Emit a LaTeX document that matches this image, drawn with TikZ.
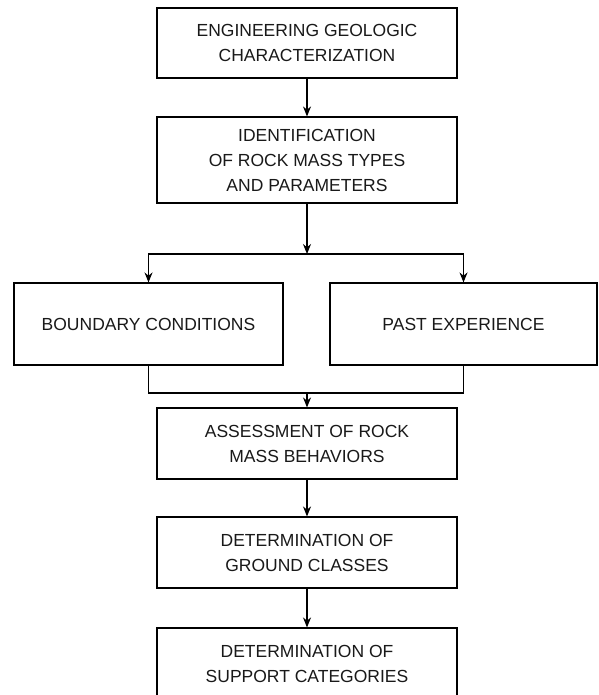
\documentclass[tikz,border=0pt]{standalone}
\usepackage{fontspec}
\setmainfont{Liberation Sans}
\usetikzlibrary{arrows.meta}
\begin{document}
\begin{tikzpicture}[x=1pt,y=-1pt,
  box/.style={draw, line width=1.1pt, align=center, inner sep=0pt, font=\fontsize{17.5}{25}\selectfont, text=black!90},
  arr/.style={line width=1.1pt, -{Stealth[length=10pt,width=8pt]}},
  ln/.style={line width=1.1pt}]
\useasboundingbox (0,0) rectangle (598,695);
\clip (0,0) rectangle (598,695);
\fill[white] (0,0) rectangle (598,695);
\node[box, minimum width=300pt, minimum height=70pt] (b1) at (307,43) {ENGINEERING GEOLOGIC\\CHARACTERIZATION};
\node[box, minimum width=300pt, minimum height=86pt] (b2) at (307,160) {IDENTIFICATION\\OF ROCK MASS TYPES\\AND PARAMETERS};
\node[box, minimum width=269pt, minimum height=82pt] (bl) at (148.5,324) {BOUNDARY CONDITIONS};
\node[box, minimum width=267pt, minimum height=82pt] (br) at (463.5,324) {PAST EXPERIENCE};
\node[box, minimum width=300pt, minimum height=71pt] (b3) at (307,443.5) {ASSESSMENT OF ROCK\\MASS BEHAVIORS};
\node[box, minimum width=300pt, minimum height=71pt] (b4) at (307,552.5) {DETERMINATION OF\\GROUND CLASSES};
\node[box, minimum width=300pt, minimum height=71pt] (b5) at (307,663.5) {DETERMINATION OF\\SUPPORT CATEGORIES};
\coordinate (split) at (307,254);
\coordinate (merge) at (307,393);
\draw[arr] (b1) -- (b2);
\draw[arr] (b2) -- (split);
\draw[arr] (split) -| (bl.north);
\draw[arr] (split) -| (br.north);
\draw[ln] (bl.south) |- (merge) -| (br.south);
\draw[arr] (merge) -- (b3);
\draw[arr] (b3) -- (b4);
\draw[arr] (b4) -- (b5);
\end{tikzpicture}
\end{document}
